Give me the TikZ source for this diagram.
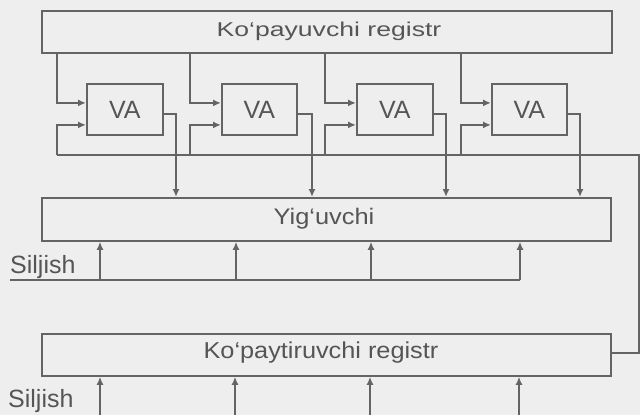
\documentclass[tikz,border=0pt]{standalone}
\usepackage{fontspec}
\usepackage{graphicx}
\setmainfont{Liberation Sans}
\usetikzlibrary{arrows.meta}
\definecolor{bg}{RGB}{238,238,238}
\definecolor{ln}{RGB}{100,100,100}
\definecolor{tx}{RGB}{85,85,85}
\tikzset{
  wire/.style={draw=ln, line width=1.8pt},
  arr/.style={wire, -{Latex[length=8pt,width=7pt]}},
  regbox/.style={draw=ln, line width=1.8pt, rectangle, anchor=north west, inner sep=0pt,
    minimum width=570pt, minimum height=42pt, text=tx},
  vabox/.style={draw=ln, line width=1.8pt, rectangle, anchor=north west, inner sep=0pt,
    minimum width=76pt, minimum height=51pt, text=tx, font=\fontsize{25}{30}\selectfont},
  lbl/.style={text=tx, inner sep=0pt, anchor=base west, font=\fontsize{25}{30}\selectfont}
}
\begin{document}
\begin{tikzpicture}[x=1pt,y=-1pt]
\fill[bg] (0,0) rectangle (640,415);
\useasboundingbox (0,0) rectangle (640,415);

% registers
\node[regbox, minimum width=570pt] (top) at (41,10) {};
\node[text=tx, inner sep=0pt, font=\fontsize{20}{24}\selectfont] (toptxt) at (329,31) {\scalebox{1.33}[1]{Ko‘payuvchi registr}};
\node[regbox, minimum width=569pt, minimum height=43pt] (acc) at (41,197) {};
\node[text=tx, inner sep=0pt, font=\fontsize{22.5}{27}\selectfont] (acctxt) at (324,219) {\scalebox{1.13}[1]{Yig‘uvchi}};
\node[regbox, minimum width=569pt] (mul) at (41,333) {};
\node[text=tx, inner sep=0pt, font=\fontsize{23}{27}\selectfont] (multxt) at (321,353) {\scalebox{1.1}[1]{Ko‘paytiruvchi registr}};

% VA blocks
\node[vabox] (va1) at (86,83) {VA};
\node[vabox, minimum width=75pt] (va2) at (221,83) {VA};
\node[vabox] (va3) at (356,83) {VA};
\node[vabox, minimum width=75pt] (va4) at (491,83) {VA};

% tap x positions
\coordinate (t1) at (57,0);
\coordinate (t2) at (190,0);
\coordinate (t3) at (325,0);
\coordinate (t4) at (461,0);
% bus
\coordinate (busL) at (57,155);
\coordinate (busR) at (639,155);
\coordinate (fbR) at (639,353);

% output x positions
\coordinate (o1) at (176,0);
\coordinate (o2) at (312,0);
\coordinate (o3) at (446,0);
\coordinate (o4) at (580,0);

\foreach \i in {1,2,3,4}{
  \draw[arr] (top.south -| t\i) |- ([yshift=6.5pt]va\i.west);
  \draw[arr] (busL -| t\i) |- ([yshift=-15.5pt]va\i.west);
  \draw[arr] ([yshift=-4.5pt]va\i.east) -| (acc.north -| o\i);
}

% feedback bus
\draw[wire] (mul.east |- fbR) -- (fbR) -- (busR) -- (busL);

% Siljish 1
\coordinate (s1L) at (10,280);
\coordinate (s1R) at (520,280);
\draw[wire] (s1L) -- (s1R);
\coordinate (a1) at (100,0);
\coordinate (a2) at (236,0);
\coordinate (a3) at (371,0);
\coordinate (a4) at (520,0);
\foreach \i in {1,2,3,4}{
  \draw[arr] (s1L -| a\i) -- (acc.south -| a\i);
}
\node[lbl] (sil1) at (10,273) {Siljish};

% Siljish 2
\coordinate (s2) at (0,415);
\coordinate (b1) at (100,0);
\coordinate (b2) at (235,0);
\coordinate (b3) at (370,0);
\coordinate (b4) at (519,0);
\foreach \i in {1,2,3,4}{
  \draw[arr] (s2 -| b\i) -- (mul.south -| b\i);
}
\node[lbl] (sil2) at (8,407) {Siljish};
\end{tikzpicture}
\end{document}
